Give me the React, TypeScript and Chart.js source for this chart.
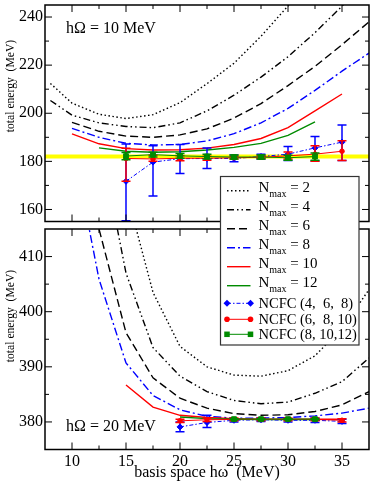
import React, { useEffect, useRef } from 'react';
import { Chart, registerables } from 'chart.js';

Chart.register(...registerables);

const FONT = '"Liberation Serif", "Times New Roman", Times, serif';

// basis space hω grid (MeV)
const hw = [8, 10, 12.5, 15, 17.5, 20, 22.5, 25, 27.5, 30, 32.5, 35, 37.5];

// hΩ = 10 MeV panel : total energy for each Nmax
const topN2 = [212.4, 204.2, 199.6, 197.8, 199.4, 204.4, 212.3, 220.8, 232, 244.6, 258, null, null];
const topN4 = [205.3, 199.2, 196, 194.5, 194, 196, 201, 207.5, 215, 223.5, 233.5, 244.5, 257];
const topN6 = [null, 196.2, 192.5, 190.5, 190, 191, 193.5, 198, 204, 211.5, 219.5, 228.5, 238];
const topN8 = [null, 193.7, 190, 187.5, 186.8, 187, 188.5, 191.5, 196, 202, 209.5, 217.5, 225];
const topN10 = [null, 191.4, 187.3, 185.3, 184.7, 184.8, 185.5, 187, 189.5, 194, 201, 208, null];
const topN12 = [null, null, 185.6, 184.2, 183.8, 184, 184.7, 185.8, 187.5, 190.8, 196.4, null, null];

// hΩ = 20 MeV panel
const botN2 = [null, null, 450, 422, 403.5, 393.7, 390, 388.5, 388.3, 389.3, 392, 397, 404];
const botN4 = [null, null, 432, 407, 393.5, 388.3, 385.5, 383.9, 383.3, 383.6, 385.2, 387.3, 391.6];
const botN6 = [null, 445, 415, 396.2, 388, 384.3, 382.5, 381.5, 381.2, 381.3, 381.9, 383.1, 385.5];
const botN8 = [null, 431, 405.9, 390.7, 384.8, 382.2, 381, 380.7, 380.7, 380.8, 381.1, 381.6, 382.5];
const botN10 = [null, null, null, 386.7, 382.7, 381.2, 380.8, 380.6, 380.5, 380.5, 380.5, 380.5, null];
const botN12 = [null, null, null, null, null, 380.9, 380.6, 380.5, 380.45, 380.45, 380.45, null, null];

// NCFC extrapolations, hΩ = 10 MeV
const ncfcTopX = [15, 17.5, 20, 22.5, 25, 27.5, 30, 32.5, 35];
const top468 = [171.7, 179.7, 181.1, 181.2, 181.2, 182.0, 183.0, 185.6, 188.0];
const top468Lo = [155.3, 165.6, 175.0, 177.0, 179.8, 181.0, 180.4, 180.1, 180.4];
const top468Hi = [187.2, 186.5, 187.0, 185.6, 182.6, 183.0, 186.2, 190.3, 195.1];
const top6810 = [181.2, 181.0, 181.3, 181.3, 181.5, 181.7, 182.3, 183.0, 184.2];
const top6810Lo = [171.7, 180.0, 180.3, 180.5, 181.0, 181.2, 181.0, 180.0, 180.4];
const top6810Hi = [185.5, 182.5, 182.3, 182.1, 182.0, 182.2, 183.9, 186.5, 188.6];
const ncfcTop12X = [15, 17.5, 20, 22.5, 25, 27.5, 30, 32.5];
const top81012 = [182.2, 182.8, 182.3, 182.0, 181.8, 181.8, 181.5, 182.0];
const top81012Lo = [180.7, 181.8, 181.3, 181.0, 181.0, 181.0, 180.5, 180.5];
const top81012Hi = [183.7, 183.8, 183.3, 183.0, 182.6, 182.6, 182.5, 183.5];

// NCFC extrapolations, hΩ = 20 MeV
const ncfcBotX = [20, 22.5, 25, 27.5, 30, 32.5, 35];
const bot468 = [379.1, 379.9, 380.3, 380.4, 380.3, 380.3, 380.1];
const bot468Lo = [378.2, 379.0, 380.0, 380.1, 380.0, 379.9, 379.7];
const bot468Hi = [380.0, 381.2, 380.6, 380.7, 380.6, 380.7, 380.5];
const bot6810 = [380.2, 380.4, 380.45, 380.45, 380.45, 380.45, 380.3];
const bot6810Lo = [379.9, 380.1, 380.2, 380.2, 380.2, 380.2, 380.0];
const bot6810Hi = [380.5, 380.7, 380.7, 380.7, 380.7, 380.7, 380.6];
const ncfcBot12X = [25, 27.5, 30, 32.5];
const bot81012 = [380.5, 380.5, 380.5, 380.5];
const bot81012Lo = [380.4, 380.4, 380.4, 380.4];
const bot81012Hi = [380.6, 380.6, 380.6, 380.6];

// reference energy band in the upper panel
const refEnergy = 182;

// axes
const xRange = [7.5, 37.5];
const xTickLabels = [10, 15, 20, 25, 30, 35];
const xMinor = [10, 12.5, 15, 17.5, 20, 22.5, 25, 27.5, 30, 32.5, 35];
const topYRange = [155, 245];
const topYLabels = [160, 180, 200, 220, 240];
const topYMinor = [160, 170, 180, 190, 200, 210, 220, 230, 240];
const botYRange = [375, 415];
const botYLabels = [380, 390, 400, 410];
const botYMinor = [380, 385, 390, 395, 400, 405, 410];

const nmaxLabels = ['2', '4', '6', '8', '10', '12'];
const ncfcLabels = ['NCFC (4,  6,  8)', 'NCFC (6,  8, 10)', 'NCFC (8, 10,12)'];

const curveStyles = [
  { color: '#000000', dash: [1.5, 2.5], width: 1.4 },
  { color: '#000000', dash: [7, 3, 1.5, 3, 1.5, 3], width: 1.4 },
  { color: '#000000', dash: [8, 4], width: 1.4 },
  { color: '#0000ff', dash: [8, 3, 2, 3], width: 1.4 },
  { color: '#ff0000', dash: [] as number[], width: 1.4 },
  { color: '#008b00', dash: [] as number[], width: 1.4 },
];
const ncfcStyles = [
  { color: '#0000ff', dash: [4, 2, 1.5, 2], width: 1, point: 'rectRot', r: 3 },
  { color: '#ff0000', dash: [] as number[], width: 1, point: 'circle', r: 2.3 },
  { color: '#008b00', dash: [] as number[], width: 1, point: 'rect', r: 3.4 },
];

const pts = (xs: number[], ys: (number | null)[]) => xs.map((x, i) => ({ x, y: ys[i] }));

function curveDataset(ys: (number | null)[], i: number) {
  const s = curveStyles[i];
  return {
    data: pts(hw, ys),
    borderColor: s.color,
    borderWidth: s.width,
    borderDash: s.dash,
    pointRadius: 0,
    fill: false,
    tension: 0,
    spanGaps: false,
    order: 50 - i,
  };
}

function ncfcDataset(xs: number[], ys: number[], lo: number[], hi: number[], i: number) {
  const s = ncfcStyles[i];
  return {
    data: pts(xs, ys),
    errLo: lo,
    errHi: hi,
    borderColor: s.color,
    backgroundColor: s.color,
    borderWidth: s.width,
    borderDash: s.dash,
    pointStyle: s.point,
    pointRadius: s.r,
    pointBackgroundColor: s.color,
    pointBorderColor: s.color,
    pointBorderWidth: 1,
    fill: false,
    tension: 0,
    order: 3 - i,
  };
}

const framePlugin = {
  id: 'frame',
  afterDatasetsDraw(chart: any, _args: any, opts: any) {
    const { ctx, chartArea: a } = chart;
    const xs = chart.scales.x;
    const ys = chart.scales.y;
    ctx.save();
    ctx.strokeStyle = '#000';
    ctx.lineWidth = 1;
    ctx.setLineDash([]);
    ctx.beginPath();
    xMinor.forEach((v) => {
      const p = xs.getPixelForValue(v);
      const len = xTickLabels.includes(v) ? 7 : 4;
      ctx.moveTo(p, a.bottom);
      ctx.lineTo(p, a.bottom - len);
      ctx.moveTo(p, a.top);
      ctx.lineTo(p, a.top + len);
    });
    (opts.minor as number[]).forEach((v) => {
      const p = ys.getPixelForValue(v);
      const len = (opts.major as number[]).includes(v) ? 7 : 4;
      ctx.moveTo(a.left, p);
      ctx.lineTo(a.left + len, p);
      ctx.moveTo(a.right, p);
      ctx.lineTo(a.right - len, p);
    });
    ctx.stroke();
    ctx.lineWidth = 1.5;
    ctx.strokeRect(a.left, a.top, a.right - a.left, a.bottom - a.top);
    ctx.restore();
  },
};

const errorBarPlugin = {
  id: 'errbars',
  beforeDatasetDraw(chart: any, args: any) {
    const ds = chart.data.datasets[args.index];
    if (!ds.errLo) return;
    const { ctx, chartArea: a } = chart;
    const xs = chart.scales.x;
    const ys = chart.scales.y;
    const cap = 4.5;
    ctx.save();
    ctx.beginPath();
    ctx.rect(a.left, a.top, a.right - a.left, a.bottom - a.top);
    ctx.clip();
    ctx.strokeStyle = ds.borderColor;
    ctx.lineWidth = 1.5;
    ctx.setLineDash([]);
    ctx.beginPath();
    ds.data.forEach((pt: any, i: number) => {
      const x = xs.getPixelForValue(pt.x);
      const y1 = ys.getPixelForValue(ds.errLo[i]);
      const y2 = ys.getPixelForValue(ds.errHi[i]);
      ctx.moveTo(x, y1);
      ctx.lineTo(x, y2);
      ctx.moveTo(x - cap, y1);
      ctx.lineTo(x + cap, y1);
      ctx.moveTo(x - cap, y2);
      ctx.lineTo(x + cap, y2);
    });
    ctx.stroke();
    ctx.restore();
  },
};

const textPlugin = {
  id: 'texts',
  afterDraw(chart: any, _args: any, opts: any) {
    const { ctx, chartArea: a } = chart;
    ctx.save();
    ctx.fillStyle = '#000';
    ctx.textAlign = 'left';
    ctx.textBaseline = 'alphabetic';
    ctx.font = `16px ${FONT}`;
    ctx.fillText(opts.panelLabel, a.left + 21, opts.panelLabelY);
    if (opts.xLabel) {
      ctx.textAlign = 'center';
      ctx.fillText(opts.xLabel, (a.left + a.right) / 2, opts.xLabelY);
    }
    ctx.translate(opts.yLabelX, opts.yLabelY);
    ctx.rotate(-Math.PI / 2);
    ctx.scale(0.86, 1);
    ctx.textAlign = 'center';
    ctx.font = `13.5px ${FONT}`;
    ctx.fillText('total energy  (MeV)', 0, 0);
    ctx.restore();
  },
};

function drawMarker(ctx: CanvasRenderingContext2D, kind: string, x: number, y: number, r: number) {
  ctx.beginPath();
  if (kind === 'rectRot') {
    ctx.moveTo(x, y - r);
    ctx.lineTo(x + r, y);
    ctx.lineTo(x, y + r);
    ctx.lineTo(x - r, y);
    ctx.closePath();
  } else if (kind === 'circle') {
    ctx.arc(x, y, r, 0, Math.PI * 2);
  } else {
    const s = r * Math.SQRT1_2;
    ctx.rect(x - s, y - s, 2 * s, 2 * s);
  }
  ctx.fill();
}

const legendPlugin = {
  id: 'customLegend',
  afterDraw(chart: any) {
    const { ctx } = chart;
    const bx = 220.5;
    const by = 176.5;
    const bw = 138.5;
    const bh = 168.5;
    const x0 = 227;
    const x1 = 250.5;
    const tx = 258.5;
    ctx.save();
    ctx.fillStyle = '#fff';
    ctx.fillRect(bx, by, bw, bh);
    ctx.strokeStyle = '#333';
    ctx.lineWidth = 1.2;
    ctx.strokeRect(bx, by, bw, bh);
    nmaxLabels.forEach((lab, i) => {
      const y = 190.7 + i * 19;
      const st = curveStyles[i];
      ctx.strokeStyle = st.color;
      ctx.lineWidth = st.width;
      ctx.setLineDash(st.dash);
      ctx.beginPath();
      ctx.moveTo(x0, y);
      ctx.lineTo(x1, y);
      ctx.stroke();
      ctx.setLineDash([]);
      ctx.fillStyle = '#000';
      ctx.textAlign = 'left';
      ctx.textBaseline = 'alphabetic';
      let x = tx;
      ctx.font = `15px ${FONT}`;
      ctx.fillText('N', x, y + 1);
      x += ctx.measureText('N').width;
      ctx.font = `10px ${FONT}`;
      ctx.fillText('max', x, y + 6);
      x += ctx.measureText('max').width;
      ctx.font = `15px ${FONT}`;
      ctx.fillText(' = ' + lab, x, y + 1);
    });
    const ys = [303.3, 319.3, 334.3];
    ncfcLabels.forEach((lab, i) => {
      const y = ys[i];
      const st = ncfcStyles[i];
      ctx.strokeStyle = st.color;
      ctx.lineWidth = st.width;
      ctx.setLineDash(st.dash);
      ctx.beginPath();
      ctx.moveTo(x0, y);
      ctx.lineTo(x1, y);
      ctx.stroke();
      ctx.setLineDash([]);
      ctx.fillStyle = st.color;
      drawMarker(ctx, st.point, x0, y, st.r + 0.5);
      drawMarker(ctx, st.point, x1, y, st.r + 0.5);
      ctx.fillStyle = '#000';
      ctx.font = `14.5px ${FONT}`;
      ctx.textAlign = 'left';
      ctx.textBaseline = 'alphabetic';
      ctx.fillText(lab, tx, y + 4.8);
    });
    ctx.restore();
  },
};

function makeConfig(panel: 'top' | 'bottom'): any {
  const isTop = panel === 'top';
  const curves = isTop
    ? [topN2, topN4, topN6, topN8, topN10, topN12]
    : [botN2, botN4, botN6, botN8, botN10, botN12];
  const datasets: any[] = curves.map((c, i) => curveDataset(c, i));
  if (isTop) {
    datasets.push(ncfcDataset(ncfcTopX, top468, top468Lo, top468Hi, 0));
    datasets.push(ncfcDataset(ncfcTopX, top6810, top6810Lo, top6810Hi, 1));
    datasets.push(ncfcDataset(ncfcTop12X, top81012, top81012Lo, top81012Hi, 2));
    datasets.push({
      data: [
        { x: xRange[0], y: refEnergy },
        { x: xRange[1], y: refEnergy },
      ],
      borderColor: '#ffff00',
      borderWidth: 4,
      pointRadius: 0,
      fill: false,
      order: 100,
    });
  } else {
    datasets.push(ncfcDataset(ncfcBotX, bot468, bot468Lo, bot468Hi, 0));
    datasets.push(ncfcDataset(ncfcBotX, bot6810, bot6810Lo, bot6810Hi, 1));
    datasets.push(ncfcDataset(ncfcBot12X, bot81012, bot81012Lo, bot81012Hi, 2));
  }
  const yRange = isTop ? topYRange : botYRange;
  const yLabels = isTop ? topYLabels : botYLabels;
  const yMinor = isTop ? topYMinor : botYMinor;
  const plugins: any[] = [errorBarPlugin, framePlugin, textPlugin];
  if (!isTop) plugins.push(legendPlugin);
  return {
    type: 'line',
    data: { datasets },
    options: {
      responsive: false,
      animation: false,
      devicePixelRatio: 1,
      events: [],
      layout: {
        padding: isTop
          ? { left: 0, right: 2, top: 1, bottom: 262.5 }
          : { left: 0, right: 2, top: 229, bottom: 0 },
      },
      plugins: {
        legend: { display: false },
        tooltip: { enabled: false },
        frame: { major: yLabels, minor: yMinor },
        texts: isTop
          ? { panelLabel: 'hΩ = 10 MeV', panelLabelY: 33, yLabelX: 13.5, yLabelY: 86 }
          : {
              panelLabel: 'hΩ = 20 MeV',
              panelLabelY: 430.5,
              yLabelX: 13.5,
              yLabelY: 316,
              xLabel: 'basis space hω  (MeV)',
              xLabelY: 477,
            },
      },
      scales: {
        x: {
          type: 'linear',
          min: xRange[0],
          max: xRange[1],
          display: !isTop,
          afterBuildTicks: (s: any) => {
            s.ticks = xTickLabels.map((v) => ({ value: v }));
          },
          afterFit: (s: any) => {
            s.height = isTop ? 0 : 34.5;
            s.paddingLeft = 0;
            s.paddingRight = 0;
          },
          grid: { display: false, drawTicks: false },
          border: { display: false },
          ticks: {
            color: '#000',
            font: { family: FONT, size: 16 },
            padding: 3,
            maxRotation: 0,
            autoSkip: false,
          },
        },
        y: {
          type: 'linear',
          min: yRange[0],
          max: yRange[1],
          afterBuildTicks: (s: any) => {
            s.ticks = yLabels.map((v) => ({ value: v }));
          },
          afterFit: (s: any) => {
            s.width = 45;
            s.paddingTop = 0;
            s.paddingBottom = 0;
          },
          grid: { display: false, drawTicks: false },
          border: { display: false },
          ticks: {
            color: '#000',
            font: { family: FONT, size: 16 },
            padding: 2,
            autoSkip: false,
          },
        },
      },
    },
    plugins,
  };
}

export default function App() {
  const topRef = useRef<HTMLCanvasElement>(null);
  const botRef = useRef<HTMLCanvasElement>(null);
  useEffect(() => {
    const c1 = new Chart(topRef.current as HTMLCanvasElement, makeConfig('top'));
    const c2 = new Chart(botRef.current as HTMLCanvasElement, makeConfig('bottom'));
    return () => {
      c1.destroy();
      c2.destroy();
    };
  }, []);
  return (
    <div style={{ position: 'fixed', left: 0, top: 0, width: 374, height: 484, background: '#fff' }}>
      <canvas ref={topRef} width={374} height={484} style={{ position: 'absolute', left: 0, top: 0 }} />
      <canvas ref={botRef} width={374} height={484} style={{ position: 'absolute', left: 0, top: 0 }} />
    </div>
  );
}
